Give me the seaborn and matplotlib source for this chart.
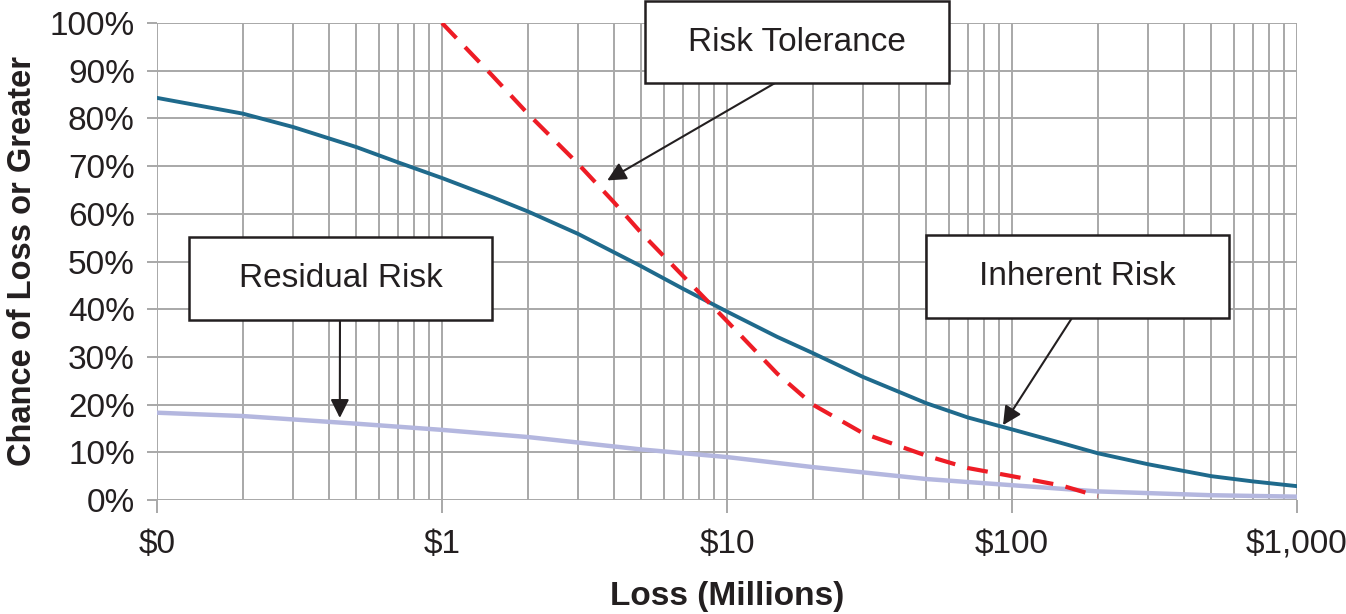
import numpy as np
import matplotlib
matplotlib.use("Agg")
import matplotlib.pyplot as plt
import matplotlib.ticker as mticker
from matplotlib.patches import Rectangle
import seaborn as sns

# Données (perte en millions, probabilité en %)
inherent_x = [0.1, 0.2, 0.3, 0.5, 0.7, 1, 1.5, 2, 3, 5, 7, 10, 15, 20, 30, 50, 70, 100, 150, 200, 300, 500, 700, 1000]
inherent_y = [84.3, 81, 78.2, 74, 70.8, 67.5, 63.5, 60.5, 55.8, 49, 44.3, 39.5, 34.2, 30.8, 25.8, 20.3, 17.3, 14.8, 11.9, 9.8, 7.5, 5, 3.9, 2.9]

residual_x = [0.1, 0.2, 0.5, 1, 2, 5, 10, 20, 50, 100, 200, 500, 1000]
residual_y = [18.3, 17.6, 16, 14.7, 13.2, 10.6, 9, 6.9, 4.4, 3.1, 1.8, 1, 0.7]

tolerance_x = [1, 1.5, 2, 3, 4, 5, 7, 10, 15, 20, 30, 50, 70, 100, 150, 200]
tolerance_y = [100, 89, 81, 70.5, 62.5, 56, 47, 37.5, 26.5, 20, 14, 9.3, 6.7, 5, 3, 0.8]

x_ticks = [0.1, 1, 10, 100, 1000]
x_labels = ["$0", "$1", "$10", "$100", "$1,000"]
y_ticks = list(range(0, 101, 10))

sns.set_theme(style="whitegrid")
plt.rcParams['font.family'] = ['Liberation Sans', 'DejaVu Sans']

fig = plt.figure(figsize=(13.46, 6.14), dpi=100)
ax = fig.add_axes([157 / 1346, 1 - 500 / 614, 1140 / 1346, 477 / 614])

grid_col = "#a8a8a8"
ink = "#231f20"

sns.lineplot(x=residual_x, y=residual_y, ax=ax, color="#b4b7df", lw=3.2, zorder=3)
sns.lineplot(x=inherent_x, y=inherent_y, ax=ax, color="#1f6a8c", lw=2.8, zorder=4)
sns.lineplot(x=tolerance_x, y=tolerance_y, ax=ax, color="#ee1c25", lw=3.0, zorder=5,
             linestyle=(0, (5, 3)))

ax.set_xscale("log")
ax.set_xlim(0.1, 1000)
ax.set_ylim(0, 100)
ax.set_xticks(x_ticks)
ax.set_xticklabels(x_labels)
ax.xaxis.set_minor_locator(mticker.LogLocator(base=10, subs=np.arange(2, 10)))
ax.xaxis.set_minor_formatter(mticker.NullFormatter())
ax.set_yticks(y_ticks)
ax.yaxis.set_major_formatter(mticker.FuncFormatter(lambda v, p: f"{int(v)}%"))

ax.grid(True, which="major", color=grid_col, lw=1.4)
ax.grid(True, which="minor", axis="x", color=grid_col, lw=1.4)
for s in ax.spines.values():
    s.set_visible(False)
ax.set_facecolor("white")

ax.tick_params(axis="x", which="major", length=9, width=1.4, color=grid_col, pad=12,
               labelsize=24, bottom=True, labelcolor=ink)
ax.tick_params(axis="x", which="minor", length=0)
ax.tick_params(axis="y", length=7, width=1.4, color=grid_col, pad=9,
               labelsize=24, left=True, labelcolor=ink)

ax.set_xlabel("Loss (Millions)", fontsize=24, fontweight="bold", color=ink, labelpad=15)
ax.set_ylabel("Chance of Loss or Greater", fontsize=23.5, fontweight="bold", color=ink, labelpad=8)

# Encadrés et flèches
boxes = [
    ("Risk Tolerance", (0.428, 0.874), 0.267, 0.172, (0.542, 0.874), (3.8, 67)),
    ("Residual Risk", (0.028, 0.377), 0.266, 0.174, (0.1605, 0.377), (0.438, 17.2)),
    ("Inherent Risk", (0.6746, 0.3816), 0.2658, 0.174, (0.8026, 0.3816), (93, 15.7)),
]
for label, (bx, by), bw, bh, start, tip in boxes:
    ax.add_patch(Rectangle((bx, by), bw, bh, transform=ax.transAxes, facecolor="white",
                           edgecolor=ink, lw=1.8, clip_on=False, zorder=10))
    ax.text(bx + bw / 2, by + bh / 2, label, transform=ax.transAxes, ha="center", va="center",
            fontsize=24, color=ink, zorder=11)
    ax.annotate("", xy=tip, xycoords="data", xytext=start, textcoords="axes fraction",
                arrowprops=dict(arrowstyle="-|>", color=ink, lw=1.5,
                                mutation_scale=28, shrinkA=0, shrinkB=0),
                zorder=9, annotation_clip=False)

fig.savefig("out.png", dpi=100)
